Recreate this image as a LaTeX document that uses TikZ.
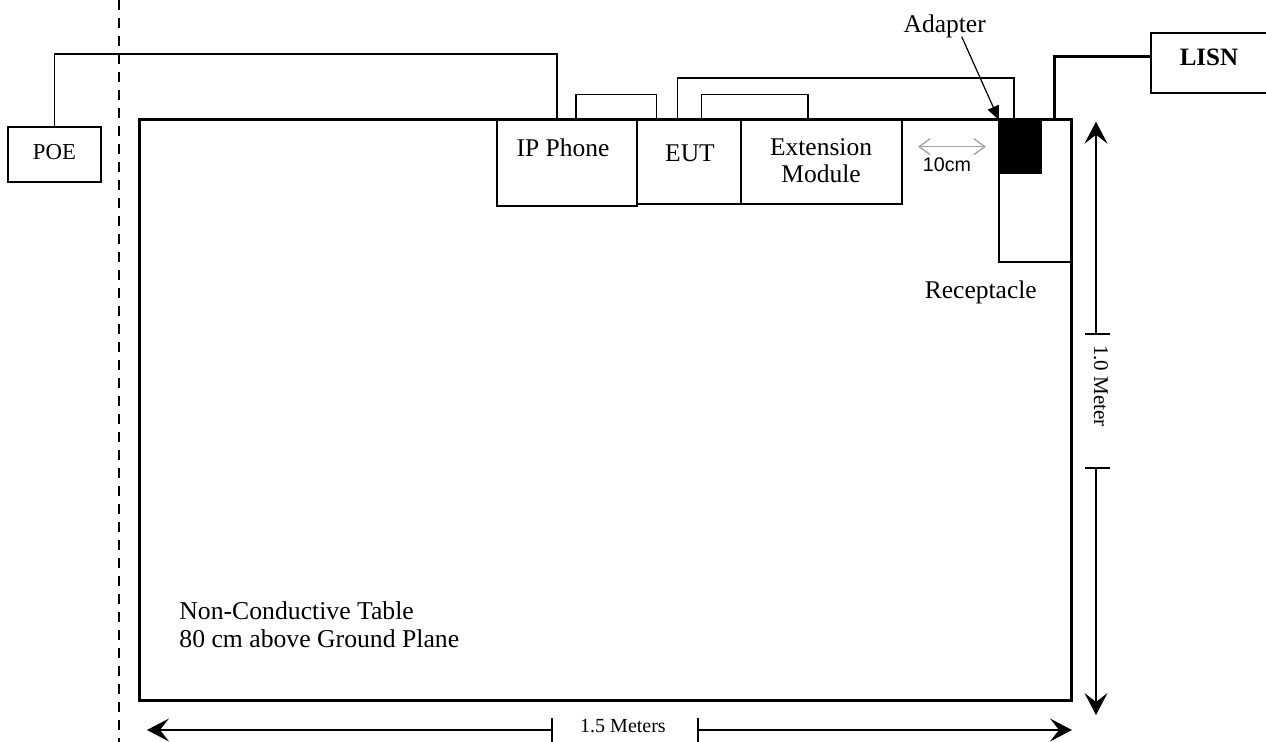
\documentclass[tikz,border=0pt]{standalone}
\usepackage{fontspec}
\setmainfont{Liberation Serif}
\newfontfamily\arialfont{Liberation Sans}
\usetikzlibrary{arrows.meta}
\begin{document}
\begin{tikzpicture}[x=0.5pt,y=-0.5pt,
  box/.style={draw, line width=0.7pt, inner sep=0pt, outer sep=0pt, anchor=north west},
  lbl/.style={inner sep=0pt, font=\fontsize{12.75pt}{13.65pt}\selectfont},
  wire/.style={line width=0.7pt},
  heavywire/.style={line width=1.5pt},
  dimline/.style={line width=0.6pt},
  dimhead/.style={-{Stealth[length=11pt,width=11.5pt,inset=4.5pt]}},
  tick/.style={line width=0.7pt}
]
\useasboundingbox (0,0) rectangle (1266,742);

% dashed boundary line
\draw[line width=1pt, dash pattern=on 5pt off 4pt] (119,0) -- (119,742);

% boxes
\node[box, minimum width=46.5pt, minimum height=27.5pt] (poe) at (8,127) {};
\node[box, minimum width=70pt, minimum height=30pt] (lisn) at (1151,33) {};
\node[box, minimum width=70pt, minimum height=43pt] (ip) at (497,120) {};
\node[box, minimum width=52pt, minimum height=42pt] (eut) at (637,120) {};
\node[box, minimum width=80.5pt, minimum height=42pt] (ext) at (741,120) {};
\node[box, minimum width=36pt, minimum height=71pt] (rec) at (999,120) {};
\node[fill=black, inner sep=0pt, outer sep=0pt, anchor=north west, minimum width=21.5pt, minimum height=27pt] (adapter) at (999,120) {};

% table
\node[draw, line width=1.5pt, inner sep=0pt, outer sep=0pt, anchor=north west, minimum width=466.25pt, minimum height=290.5pt] (table) at (139,120) {};

% ports
\coordinate (ipP1) at (557,120);
\coordinate (ipP2) at (576,120);
\coordinate (eutP1) at (656.7,120);
\coordinate (eutP2) at (677.7,120);
\coordinate (eutP3) at (701.7,120);
\coordinate (extP) at (808,120);
\coordinate (adP) at (1014,120);
\coordinate (recP) at (1054,120);

% cables
\draw[wire] (poe.north) -- ++(0,-73) -| (ipP1);
\draw[wire] (ipP2) -- ++(0,-25.3) -| (eutP1);
\draw[wire] (eutP2) -- ++(0,-42) -| (adP);
\draw[wire] (eutP3) -- ++(0,-25.3) -| (extP);
\draw[heavywire] (recP) |- ([yshift=3pt]lisn.west);

% texts
\node[lbl, anchor=base, font=\fontsize{11.4pt}{13pt}\selectfont] (poetxt) at (54.5,160) {POE};
\node[lbl, anchor=base, font=\bfseries\fontsize{12.5pt}{14pt}\selectfont] (lisntxt) at (1209,66) {LISN};
\node[lbl, anchor=base] (iptxt) at (563,156.7) {IP Phone};
\node[lbl, anchor=base] (euttxt) at (690,161.7) {EUT};
\node[lbl, anchor=north, align=center] (exttxt) at (821,138) {Extension\\Module};
\node[lbl, anchor=base] (adlab) at (944.7,32.7) {Adapter};
\node[lbl, anchor=base] (rectxt) at (980.8,299) {Receptacle};
\node[lbl, anchor=base, font=\arialfont\fontsize{9.85pt}{11pt}\selectfont] (tencm) at (947,172) {10cm};
\node[lbl, anchor=north west, align=left, font=\fontsize{12.85pt}{14pt}\selectfont] (tabtxt) at (179,601) {Non-Conductive Table\\80 cm above Ground Plane};

% adapter pointer
\draw[line width=0.6pt, -{Triangle[length=7pt,width=6pt]}] ([xshift=8.5pt,yshift=-2pt]adlab.base) -- (adapter.north west);

% 10 cm gap arrow
\coordinate (ten1) at (918,146.7);
\coordinate (ten2) at (986,146.7);
\draw[line width=0.7pt, draw=black!35, {Straight Barb[length=5.5pt,width=8pt]}-{Straight Barb[length=5.5pt,width=8pt]}] (ten1) -- (ten2);

% horizontal dimension 1.5 m
\node[lbl, anchor=base, font=\fontsize{10pt}{12pt}\selectfont] (m15) at (623,732.7) {1.5 Meters};
\coordinate (hl) at (552,730);
\coordinate (hr) at (698,730);
\coordinate (hL) at (147,730);
\coordinate (hR) at (1072,730);
\draw[dimline, dimhead] (hl) -- (hL);
\draw[dimline, dimhead] (hr) -- (hR);
\draw[tick] (hl) ++(0,-12) -- ++(0,26);
\draw[tick] (hr) ++(0,-12) -- ++(0,26);

% vertical dimension 1.0 m
\node[lbl, rotate=-90, font=\fontsize{10.5pt}{12pt}\selectfont] (m10) at (1101,386) {1.0 Meter};
\coordinate (vt) at (1096,334);
\coordinate (vb) at (1096,468);
\coordinate (vT) at (1096,121.7);
\coordinate (vB) at (1096,715);
\draw[dimline, dimhead] (vt) -- (vT);
\draw[dimline, dimhead] (vb) -- (vB);
\draw[tick] (vt) ++(-11,0) -- ++(25,0);
\draw[tick] (vb) ++(-11,0) -- ++(25,0);
\end{tikzpicture}
\end{document}
